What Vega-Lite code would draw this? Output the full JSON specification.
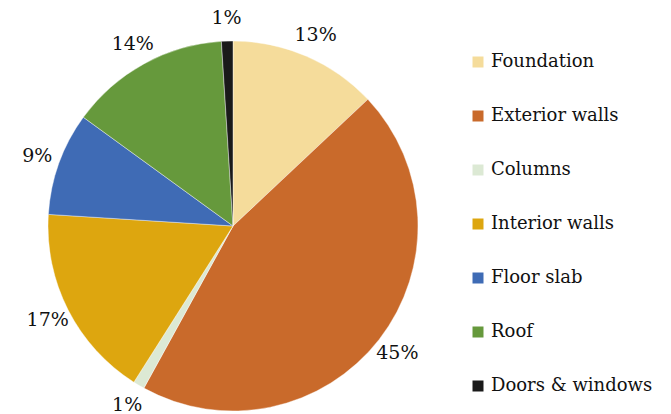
{
  "$schema": "https://vega.github.io/schema/vega-lite/v6.json",
  "autosize": "none",
  "width": 466,
  "height": 376,
  "padding": {"left": 0, "top": 38, "right": 205, "bottom": 0},
  "background": "white",
  "data": {
    "values": [
      {"part": "Foundation", "pct": 13, "idx": 1, "label": "13%"},
      {"part": "Exterior walls", "pct": 45, "idx": 2, "label": "45%"},
      {"part": "Columns", "pct": 1, "idx": 3, "label": "1%"},
      {"part": "Interior walls", "pct": 17, "idx": 4, "label": "17%"},
      {"part": "Floor slab", "pct": 9, "idx": 5, "label": "9%"},
      {"part": "Roof", "pct": 14, "idx": 6, "label": "14%"},
      {"part": "Doors & windows", "pct": 1, "idx": 7, "label": "1%"}
    ]
  },
  "encoding": {
    "theta": {"field": "pct", "type": "quantitative", "stack": true},
    "order": {"field": "idx", "type": "quantitative"}
  },
  "layer": [
    {
      "mark": {"type": "arc", "radius": 185, "stroke": "#ffffff", "strokeWidth": 0.4},
      "encoding": {
        "color": {
          "field": "part",
          "type": "nominal",
          "sort": null,
          "scale": {
            "domain": ["Foundation", "Exterior walls", "Columns", "Interior walls", "Floor slab", "Roof", "Doors & windows"],
            "range": ["#F5DC9B", "#C96A2B", "#DCE9D4", "#DDA60F", "#3F6BB5", "#66993C", "#1A1A1A"]
          },
          "legend": {
            "title": null,
            "orient": "none",
            "legendX": 469,
            "legendY": 15,
            "symbolType": "square",
            "symbolSize": 121,
            "symbolStrokeWidth": 0,
            "labelFont": "DejaVu Serif",
            "labelFontSize": 18,
            "labelColor": "#111111",
            "labelOffset": 4,
            "rowPadding": 36,
            "labelLimit": 300
          }
        }
      }
    },
    {
      "mark": {"type": "text", "radius": 208, "font": "DejaVu Serif", "fontSize": 19, "color": "#111111"},
      "encoding": {
        "text": {"field": "label"}
      }
    }
  ]
}
